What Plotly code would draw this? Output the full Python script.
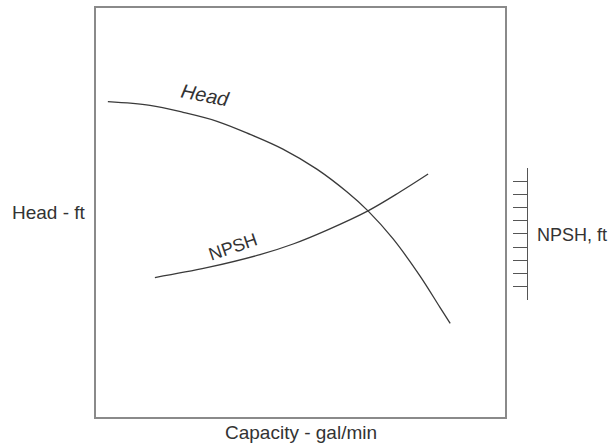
import plotly.graph_objects as go

# Head curve (capacity vs head, arbitrary units 0-100)
head_capacity = [2.9, 13.2, 21.3, 29.6, 37.7, 45.7, 54.0, 61.4, 66.5, 72.6, 79.2, 84.1, 86.6]
head_values = [77.1, 76.2, 74.5, 72.3, 69.1, 65.5, 60.6, 55.0, 50.4, 43.6, 34.5, 26.8, 22.9]

# NPSH curve
npsh_capacity = [14.4, 27.1, 40.1, 48.2, 56.5, 66.5, 74.3, 81.2]
npsh_values = [34.1, 36.5, 39.7, 42.3, 45.7, 50.4, 55.0, 59.4]

# NPSH scale ticks (unlabelled)
npsh_ticks = [0, 1, 2, 3, 4, 5, 6, 7, 8, 9, 10]

FONT = "Liberation Sans, Arial, sans-serif"
LINE = "#3a3a3a"

fig = go.Figure()
fig.add_trace(go.Scatter(x=head_capacity, y=head_values, mode="lines",
                         line=dict(color=LINE, width=1.3, shape="spline", smoothing=1),
                         showlegend=False, hoverinfo="skip"))
fig.add_trace(go.Scatter(x=npsh_capacity, y=npsh_values, mode="lines",
                         line=dict(color=LINE, width=1.3, shape="spline", smoothing=1),
                         showlegend=False, hoverinfo="skip"))
# invisible trace to carry the NPSH scale axis
fig.add_trace(go.Scatter(x=[None], y=[None], yaxis="y2", xaxis="x",
                         showlegend=False, hoverinfo="skip"))

frame = dict(showline=True, linecolor="#8a8a8a", linewidth=1.5, mirror=True,
             showgrid=False, zeroline=False, showticklabels=False, ticks="")

fig.update_layout(
    width=615, height=447,
    margin=dict(l=96, r=88, t=6, b=30),
    paper_bgcolor="white", plot_bgcolor="rgba(0,0,0,0)",
    xaxis=dict(range=[0, 100], domain=[0, 409 / 431], **frame),
    yaxis=dict(range=[0, 100], **frame),
    yaxis2=dict(range=[0, 10], domain=[0.287, 0.608], anchor="free", position=1.0,
                side="right", showline=True, linecolor="#555555",
                linewidth=1, ticks="inside", ticklen=14, tickcolor="#555555",
                tickwidth=1, tickvals=npsh_ticks, showticklabels=False,
                showgrid=False, zeroline=False),
    font=dict(family=FONT, size=19, color="#333333"),
    annotations=[
        dict(text="Head - ft", xref="paper", yref="paper", x=-0.0186, y=0.499,
             xanchor="right", yanchor="middle", showarrow=False),
        dict(text="NPSH, ft", xref="paper", yref="paper", x=1.0186, y=0.445,
             xanchor="left", yanchor="middle", font=dict(size=18), showarrow=False),
        dict(text="Capacity - gal/min", xref="paper", yref="paper", x=0.4756, y=-0.039,
             xanchor="center", yanchor="middle", showarrow=False),
        dict(text="<i>Head</i>", xref="x", yref="y", x=26.7, y=78.8, textangle=11,
             font=dict(size=20), showarrow=False),
        dict(text="NPSH", xref="x", yref="y", x=33.5, y=41.6, textangle=-19,
             font=dict(size=18), showarrow=False),
    ],
)

# drop the default page margin so the figure fills the window exactly
fig.write_html("out.html", config={"displayModeBar": False},
               post_script="document.body.style.margin='0';"
                           "document.body.style.overflow='hidden';")
